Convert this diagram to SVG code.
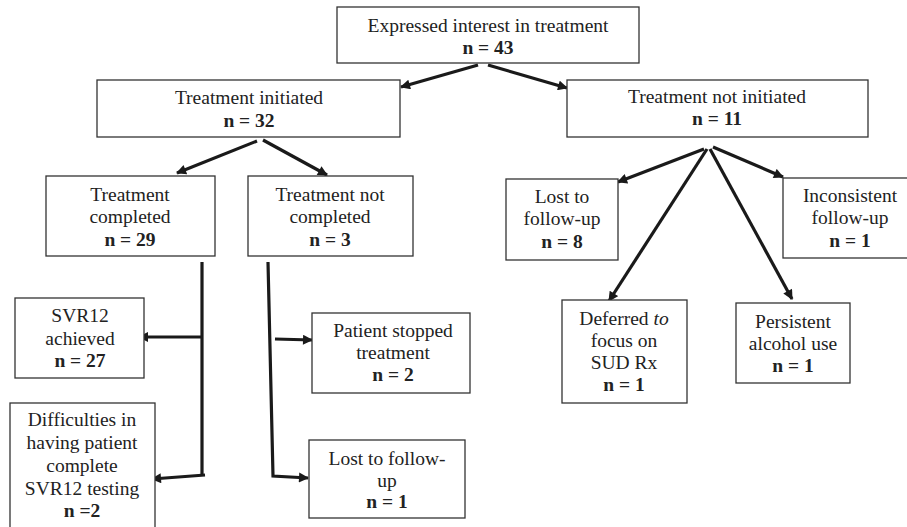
<svg xmlns="http://www.w3.org/2000/svg" width="907" height="527" viewBox="0 0 907 527">
<defs>
<style>
.box{fill:#fff;stroke:#333;stroke-width:1.3}
text{font-family:"Liberation Serif","Times New Roman",serif;font-size:19.5px;fill:#222;text-anchor:middle}
.b{font-weight:bold}
.c{fill:none;stroke:#1a1a1a;stroke-width:3.2}
</style>
<marker id="ah" viewBox="0 0 10 10" refX="9" refY="5" markerWidth="11" markerHeight="10" markerUnits="userSpaceOnUse" orient="auto">
<path d="M0,0 L10,5 L0,10 Z" fill="#1a1a1a"/>
</marker>
</defs>
<rect width="907" height="527" fill="#fff"/>
<g id="connectors">
<line class="c" x1="478" y1="65" x2="401" y2="87" marker-end="url(#ah)"/>
<line class="c" x1="488" y1="65" x2="567" y2="88" marker-end="url(#ah)"/>
<line class="c" x1="257" y1="141" x2="177" y2="173" marker-end="url(#ah)"/>
<line class="c" x1="263" y1="140" x2="327" y2="175" marker-end="url(#ah)"/>
<line class="c" x1="202" y1="262" x2="202" y2="476"/>
<line class="c" x1="202" y1="337" x2="139" y2="337" marker-end="url(#ah)"/>
<line class="c" x1="205" y1="475" x2="152" y2="479" marker-end="url(#ah)"/>
<polyline class="c" points="268,262 273,476 308,478" marker-end="url(#ah)"/>
<line class="c" x1="275" y1="339" x2="312" y2="340" marker-end="url(#ah)"/>
<line class="c" x1="704" y1="149" x2="618" y2="182" marker-end="url(#ah)"/>
<line class="c" x1="713" y1="147" x2="783" y2="177" marker-end="url(#ah)"/>
<line class="c" x1="707" y1="149" x2="609" y2="301" marker-end="url(#ah)"/>
<line class="c" x1="710" y1="149" x2="792" y2="299" marker-end="url(#ah)"/>
</g>
<g id="n-expressed">
<rect class="box" x="337" y="7" width="302" height="56"/>
<text x="488" y="32">Expressed interest in treatment</text>
<text x="488" y="54" class="b">n = 43</text>
</g>
<g id="n-initiated">
<rect class="box" x="97" y="80" width="303" height="57"/>
<text x="249" y="104">Treatment initiated</text>
<text x="249" y="127" class="b">n = 32</text>
</g>
<g id="n-not-initiated">
<rect class="box" x="567" y="80" width="301" height="57"/>
<text x="717" y="103">Treatment not initiated</text>
<text x="717" y="125" class="b">n = 11</text>
</g>
<g id="n-completed">
<rect class="box" x="46" y="176" width="169" height="80"/>
<text x="130" y="201">Treatment</text>
<text x="130" y="223">completed</text>
<text x="130" y="246" class="b">n = 29</text>
</g>
<g id="n-not-completed">
<rect class="box" x="248" y="176" width="165" height="80"/>
<text x="330" y="201">Treatment not</text>
<text x="330" y="223">completed</text>
<text x="330" y="246" class="b">n = 3</text>
</g>
<g id="n-svr12">
<rect class="box" x="15" y="298" width="129" height="80"/>
<text x="80" y="322">SVR12</text>
<text x="80" y="345">achieved</text>
<text x="80" y="367" class="b">n = 27</text>
</g>
<g id="n-difficulties">
<rect class="box" x="10" y="403" width="145" height="130"/>
<text x="82" y="426">Difficulties in</text>
<text x="82" y="449">having patient</text>
<text x="82" y="472">complete</text>
<text x="82" y="495">SVR12 testing</text>
<text x="82" y="517" class="b">n =2</text>
</g>
<g id="n-stopped">
<rect class="box" x="312" y="313" width="158" height="80"/>
<text x="393" y="337">Patient stopped</text>
<text x="393" y="359">treatment</text>
<text x="393" y="381" class="b">n = 2</text>
</g>
<g id="n-lost-mid">
<rect class="box" x="309" y="440" width="156" height="78"/>
<text x="387" y="465">Lost to follow-</text>
<text x="387" y="487">up</text>
<text x="387" y="508" class="b">n = 1</text>
</g>
<g id="n-lost-right">
<rect class="box" x="506" y="179" width="112" height="81"/>
<text x="562" y="203">Lost to</text>
<text x="562" y="225">follow-up</text>
<text x="562" y="248" class="b">n = 8</text>
</g>
<g id="n-inconsistent">
<rect class="box" x="783" y="178" width="140" height="80"/>
<text x="850" y="202">Inconsistent</text>
<text x="850" y="224">follow-up</text>
<text x="850" y="247" class="b">n = 1</text>
</g>
<g id="n-deferred">
<rect class="box" x="562" y="300" width="125" height="103"/>
<text x="624" y="325">Deferred <tspan font-style="italic">to</tspan></text>
<text x="624" y="347">focus on</text>
<text x="624" y="369">SUD Rx</text>
<text x="624" y="391" class="b">n = 1</text>
</g>
<g id="n-alcohol">
<rect class="box" x="736" y="303" width="114" height="80"/>
<text x="793" y="328">Persistent</text>
<text x="793" y="350">alcohol use</text>
<text x="793" y="372" class="b">n = 1</text>
</g>
</svg>
